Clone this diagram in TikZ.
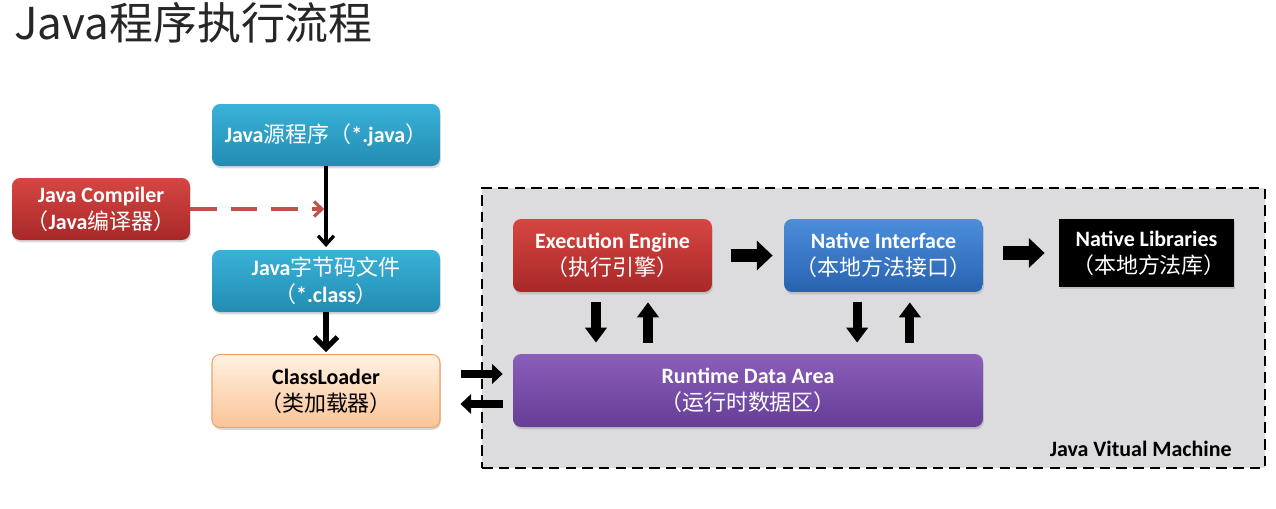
\documentclass[tikz,border=0pt]{standalone}
\usepackage{fontspec}
\setmainfont{Carlito}
\newfontfamily\cjk{Noto Sans CJK SC}
\newcommand\zh[1]{{\cjk\mdseries #1}}
\usetikzlibrary{arrows.meta,shadows}

\definecolor{tealtop}{RGB}{58,178,216}
\definecolor{tealbot}{RGB}{34,140,178}
\definecolor{redtop}{RGB}{214,70,66}
\definecolor{redbot}{RGB}{168,40,40}
\definecolor{bluetop}{RGB}{76,142,218}
\definecolor{bluebot}{RGB}{40,98,176}
\definecolor{purtop}{RGB}{138,94,186}
\definecolor{purbot}{RGB}{102,62,150}
\definecolor{ortop}{RGB}{255,241,226}
\definecolor{orbot}{RGB}{251,196,150}
\definecolor{orline}{RGB}{240,162,104}
\definecolor{jvmgray}{RGB}{220,220,223}
\definecolor{dashred}{RGB}{194,80,77}

\tikzset{
  box/.style={rounded corners=0.16cm, align=center, inner sep=0pt, text=white,
    font=\bfseries\fontsize{12.5}{15.5}\selectfont,
    drop shadow={opacity=.3, shadow xshift=.5pt, shadow yshift=-1.3pt}},
  tealbox/.style={box, top color=tealtop, bottom color=tealbot, minimum width=4.56cm, minimum height=1.24cm},
  redbox/.style={box, top color=redtop, bottom color=redbot},
  bluebox/.style={box, top color=bluetop, bottom color=bluebot},
  purbox/.style={box, top color=purtop, bottom color=purbot},
  orbox/.style={box, text=black, top color=ortop, bottom color=orbot, draw=orline, line width=.6pt},
  thinarr/.style={line width=1.9pt, -{Straight Barb[length=5pt,width=9pt]}},
  thickarr/.style={line width=3pt, -{Straight Barb[length=6.5pt,width=13pt]}},
  dasharr/.style={dashred, line width=1.8pt, dash pattern=on 15pt off 8pt,
    -{Straight Barb[length=4.5pt,width=8.5pt]}},
  blkh/.style={line width=7.6pt, -{Triangle[length=9pt,width=16.5pt]}},
  blkv/.style={line width=5.2pt, -{Triangle[length=8.5pt,width=12pt]}},
  blks/.style={line width=5pt, -{Triangle[length=6pt,width=11pt]}}
}

\begin{document}
\begin{tikzpicture}[x=0.02cm, y=-0.02cm]
  \useasboundingbox (0,0) rectangle (1276,508);
  % title
  \node[anchor=base west, inner sep=0pt, text=black!85, font=\fontsize{25}{29}\selectfont\cjk] (title) at (14,39) {Java程序执行流程};
  % jvm frame
  \node[draw, line width=1.3pt, dash pattern=on 6pt off 3.5pt, fill=jvmgray, minimum width=15.66cm, minimum height=5.6cm, inner sep=0pt] (jvm) at (873.5,328) {};
  \node[anchor=base east, inner sep=0pt, font=\bfseries\fontsize{12.5}{14}\selectfont] (jvmlabel) at (1232,456) {Java Vitual Machine};
  % left column
  \node[tealbox] (src) at (326,135) {Java\zh{源程序（}*.java\zh{）}};
  \node[redbox, minimum width=3.56cm, minimum height=1.24cm] (comp) at (101,209) {Java Compiler\\\zh{（}Java\zh{编译器）}};
  \node[tealbox] (byte) at (326,281) {Java\zh{字节码文件}\\\zh{（}*.class\zh{）}};
  \node[orbox, minimum width=4.56cm, minimum height=1.46cm] (cl) at (326,391) {ClassLoader\\\zh{（类加载器）}};
  % inside jvm
  \node[redbox, minimum width=3.98cm, minimum height=1.46cm] (ee) at (612.5,255.5) {Execution Engine\\\zh{（执行引擎）}};
  \node[bluebox, minimum width=3.98cm, minimum height=1.46cm] (ni) at (883.5,255.5) {Native Interface\\\zh{（本地方法接口）}};
  \node[box, fill=black, rounded corners=0pt, minimum width=3.5cm, minimum height=1.36cm] (nl) at (1146.5,253) {Native Libraries\\\ \zh{（本地方法库）}};
  \node[purbox, minimum width=9.4cm, minimum height=1.46cm] (rda) at (748,390.5) {Runtime Data Area\\\zh{（运行时数据区）}};

  \draw[thinarr, shorten >=1.5pt] (src) -- (byte);
  \draw[dasharr, shorten >=1pt] (comp.east) -- (comp.east -| src);
  \draw[thickarr, shorten >=1pt] (byte) -- (cl);
  \draw[blkh, shorten <=10.8pt, shorten >=6.3pt] (ee) -- (ni);
  \draw[blkh, shorten <=11.4pt, shorten >=8pt] (ni.east |- nl) -- (nl.west);
  \draw[blkv, shorten <=5.7pt, shorten >=6.3pt] ([xshift=-9.4pt]ee.south) -- ([xshift=-9.4pt]ee.south |- rda.north);
  \draw[blkv, shorten <=6.3pt, shorten >=5.7pt] ([xshift=20.2pt]ee.south |- rda.north) -- ([xshift=20.2pt]ee.south);
  \draw[blkv, shorten <=5.7pt, shorten >=6.3pt] ([xshift=-15pt]ni.south) -- ([xshift=-15pt]ni.south |- rda.north);
  \draw[blkv, shorten <=6.3pt, shorten >=5.7pt] ([xshift=15pt]ni.south |- rda.north) -- ([xshift=15pt]ni.south);
  \draw[blks, shorten <=11.4pt, shorten >=5.7pt] ([yshift=9.7pt]cl.east) -- ([yshift=9.7pt]cl.east -| rda.west);
  \draw[blks, shorten <=5.7pt, shorten >=11.4pt] ([yshift=-7.4pt]cl.east -| rda.west) -- ([yshift=-7.4pt]cl.east);
\end{tikzpicture}
\end{document}
